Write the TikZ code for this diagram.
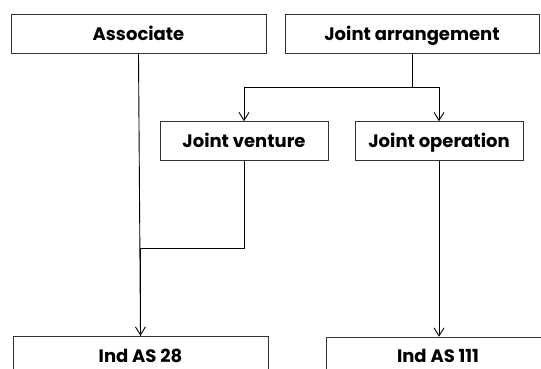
\documentclass[tikz,border=0pt]{standalone}
\usepackage{fontspec}
\setmainfont{Poppins}
\usetikzlibrary{arrows.meta}
\begin{document}
\begin{tikzpicture}[x=1pt,y=-1pt,
  box/.style={draw=black!80, line width=1pt, fill=white, inner sep=0pt,
    minimum height=39pt, text height=12.6pt, text depth=0pt,
    font=\fontsize{18}{20}\selectfont\bfseries},
  link/.style={draw=black, line width=0.9pt},
  arr/.style={link, -{Straight Barb[length=8pt,width=10pt,line width=0.9pt]}}]
  \useasboundingbox (0,0) rectangle (541,369);
  \clip (0,0) rectangle (541,369);

  % top level
  \node[box, minimum width=255pt] (assoc) at (138.5,34.2) {Associate};
  \node[box, minimum width=254pt] (ja) at (412,34.2) {Joint arrangement};

  % kinds of joint arrangement
  \node[box, minimum width=168pt] (jv) at (244,141.2) {Joint venture};
  \node[box, minimum width=168pt] (jo) at (439,141.2) {Joint operation};

  % standards (run past the lower edge)
  \node[box, minimum width=255pt, minimum height=40.2pt] (ind28) at (140.5,356.3) {Ind AS 28};
  \node[box, minimum width=224pt, minimum height=37.6pt] (ind111) at (438,356) {Ind AS 111};

  % joint arrangement splits in two
  \coordinate (split) at (412,87.7);
  \draw[link] (ja.south) -- (split);
  \draw[arr] (split) -| (jv.north);
  \draw[arr] (split) -| (jo.north);

  % associate and joint venture both lead to Ind AS 28
  \coordinate (merge) at (140.5,248.3);
  \draw[arr] (assoc.south) -- (ind28.north);
  \draw[link] (jv.south) |- (merge);
  \draw[link] (merge) -- (ind28.north);

  % joint operation leads to Ind AS 111
  \draw[arr] (jo.south) -- (jo.south |- ind111.north);
\end{tikzpicture}
\end{document}
